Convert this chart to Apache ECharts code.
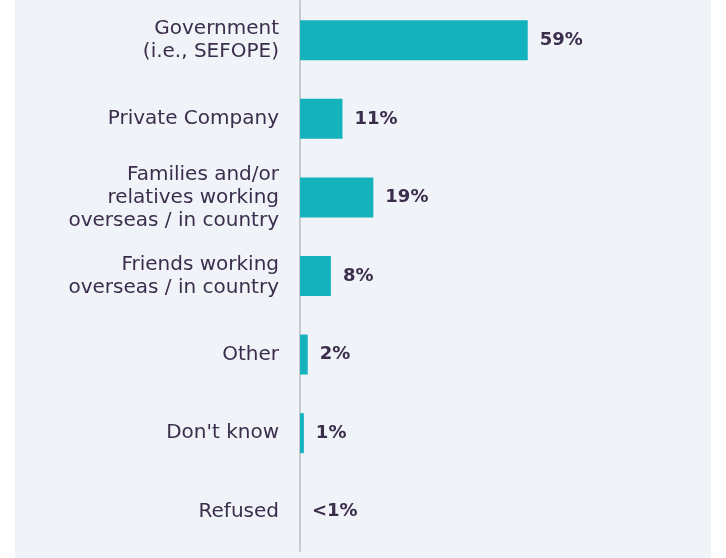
<!DOCTYPE html>
<html>
<head>
<meta charset="utf-8">
<script src="https://cdn.jsdelivr.net/npm/echarts@6/dist/echarts.min.js"></script>
<style>
  html, body { margin: 0; padding: 0; background: #ffffff; }
  #chart { position: absolute; left: 15px; top: 0; width: 696px; height: 558px; background: #f0f3f8; }
</style>
</head>
<body>
<div id="chart"></div>
<script>
// 数据
const categories = [
  'Government\n(i.e., SEFOPE)',
  'Private Company',
  'Families and/or\nrelatives working\noverseas / in country',
  'Friends working\noverseas / in country',
  'Other',
  "Don't know",
  'Refused'
]
const values = [59, 11, 19, 8, 2, 1, 0]
const valueLabels = ['59%', '11%', '19%', '8%', '2%', '1%', '<1%']

const textColor = '#3b2e4c'
const barColor = '#14b2bd'

const chart = echarts.init(document.getElementById('chart'))

chart.setOption({
  backgroundColor: '#f0f3f8',
  grid: {
    left: 285,
    right: 25,
    top: 1,
    bottom: 7,
    containLabel: false
  },
  xAxis: {
    type: 'value',
    min: 0,
    max: 100,
    show: false
  },
  yAxis: {
    type: 'category',
    data: categories,
    inverse: true,
    axisTick: { show: false },
    axisLine: {
      show: true,
      lineStyle: { color: '#c9cacf', width: 2 }
    },
    axisLabel: {
      margin: 21,
      color: textColor,
      fontFamily: 'DejaVu Sans',
      fontSize: 20,
      lineHeight: 23,
      align: 'right'
    }
  },
  series: [{
    type: 'bar',
    data: values,
    barWidth: 40,
    itemStyle: { color: barColor },
    label: {
      show: true,
      position: 'right',
      distance: 12,
      color: textColor,
      fontFamily: 'DejaVu Sans',
      fontSize: 18,
      fontWeight: 'bold',
      formatter: p => valueLabels[p.dataIndex]
    },
    silent: true
  }]
})
</script>
</body>
</html>
